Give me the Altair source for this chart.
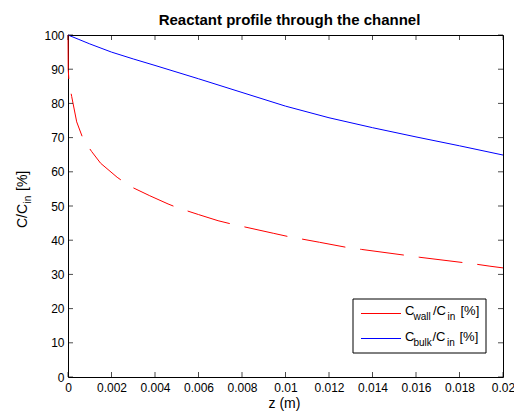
import altair as alt
import pandas as pd

# ---- data ----
z_wall = [0, 0.00001, 0.00005, 0.00017, 0.0004, 0.0007, 0.00109, 0.0015, 0.00226,
          0.00284, 0.00376, 0.0046, 0.00503, 0.006, 0.0069, 0.00754, 0.00946, 0.0101,
          0.01156, 0.01281, 0.0135, 0.0155, 0.01618, 0.01875, 0.0194, 0.02]
c_wall = [100, 90, 86, 82, 74.6, 69.5, 65.9, 62.5, 58.4,
          55.8, 53.0, 50.6, 49.5, 47.5, 45.7, 44.7, 42.0, 41.1,
          39.4, 37.9, 37.3, 35.6, 35.0, 33.0, 32.4, 31.9]

z_bulk = [0, 0.0005, 0.001, 0.002, 0.003, 0.004, 0.006, 0.008, 0.01,
          0.012, 0.014, 0.016, 0.018, 0.02]
c_bulk = [100, 98.7, 97.4, 95.0, 93.0, 91.1, 87.2, 83.2, 79.2,
          75.8, 72.9, 70.2, 67.6, 64.9]

x_ticks = [0, 0.002, 0.004, 0.006, 0.008, 0.01, 0.012, 0.014, 0.016, 0.018, 0.02]
y_ticks = [0, 10, 20, 30, 40, 50, 60, 70, 80, 90, 100]

W, H = 435, 342
FONT = "Liberation Sans"

wall_df = pd.DataFrame({"z": z_wall, "c": c_wall})
bulk_df = pd.DataFrame({"z": z_bulk, "c": c_bulk})
xt_df = pd.DataFrame({"z": x_ticks})
yt_df = pd.DataFrame({"c": y_ticks})
one = pd.DataFrame({"k": [0]})

xscale = alt.Scale(domain=[0, 0.02], nice=False, zero=False)
yscale = alt.Scale(domain=[0, 100], nice=False)

x_axis = alt.Axis(values=x_ticks, ticks=False, domain=False, grid=False,
                  labelFontSize=12, labelFont=FONT, labelColor="black",
                  labelPadding=5, labelExpr="format(datum.value, '~g')",
                  labelFlush=False, labelOverlap=False, title=None)
y_axis = alt.Axis(values=y_ticks, ticks=False, domain=False, grid=False,
                  labelFontSize=12, labelFont=FONT, labelColor="black",
                  labelPadding=4, labelFlush=False, labelOverlap=False,
                  title=None)


def X(field="z"):
    return alt.X(f"{field}:Q", scale=xscale, axis=x_axis)


def Y(field="c"):
    return alt.Y(f"{field}:Q", scale=yscale, axis=y_axis)


bulk = alt.Chart(bulk_df).mark_line(color="#0000ff", strokeWidth=1).encode(
    x=X(), y=Y(), order="z:Q")
wall = alt.Chart(wall_df).mark_line(color="#ff0000", strokeWidth=1,
                                    strokeDash=[44, 15]).encode(
    x=X(), y=Y(), order="z:Q")

tick_style = dict(color="black", thickness=1, size=5)
xt_bottom = alt.Chart(xt_df).mark_tick(orient="vertical", **tick_style).encode(
    x=X(), y=alt.value(H - 2.5))
xt_top = alt.Chart(xt_df).mark_tick(orient="vertical", **tick_style).encode(
    x=X(), y=alt.value(2.5))
yt_left = alt.Chart(yt_df).mark_tick(orient="horizontal", **tick_style).encode(
    y=Y(), x=alt.value(2.5))
yt_right = alt.Chart(yt_df).mark_tick(orient="horizontal", **tick_style).encode(
    y=Y(), x=alt.value(W - 2.5))


def txt(s, x, y, size, weight="normal", angle=0, align="left"):
    return alt.Chart(one).mark_text(
        text=s, font=FONT, fontSize=size, fontWeight=weight, angle=angle,
        align=align, baseline="alphabetic", color="black").encode(
        x=alt.value(x), y=alt.value(y))


title = txt("Reactant profile through the channel", 221.5, -10, 15,
            weight="bold", align="center")
xtitle = txt("z (m)", 216.5, 373, 14, align="center")
ytitle = [
    txt("C/C", -41, 193, 14, angle=270),
    txt("in", -37.5, 168.5, 10, angle=270),
    txt("[%]", -41, 156, 14, angle=270),
]

# legend box
legend_box = alt.Chart(one).mark_rect(fill="white", stroke="black",
                                      strokeWidth=1).encode(
    x=alt.value(285), x2=alt.value(418), y=alt.value(264), y2=alt.value(318))
leg_red = alt.Chart(one).mark_rule(color="#ff0000", strokeWidth=1).encode(
    x=alt.value(293), x2=alt.value(333), y=alt.value(278.5))
leg_blue = alt.Chart(one).mark_rule(color="#0000ff", strokeWidth=1).encode(
    x=alt.value(293), x2=alt.value(333), y=alt.value(303.5))
legend_text = [
    txt("C", 337, 280, 13),
    txt("wall", 345.5, 285, 10),
    txt("/C", 365, 280, 13),
    txt("in", 379.5, 285, 10),
    txt("[%]", 392.5, 280, 13),
    txt("C", 337, 306, 13),
    txt("bulk", 345.5, 310.5, 10),
    txt("/C", 364.5, 306, 13),
    txt("in", 379, 310.5, 10),
    txt("[%]", 391.5, 306, 13),
]

chart = alt.layer(
    bulk, wall, xt_bottom, xt_top, yt_left, yt_right,
    title, xtitle, *ytitle,
    legend_box, leg_red, leg_blue, *legend_text,
).properties(
    width=W, height=H,
    autosize=alt.AutoSizeParams(type="none"),
    padding={"left": 68, "top": 35, "right": 11, "bottom": 37},
    background="white",
).configure_view(stroke="black", strokeWidth=1)

chart.save("out.html", embed_options={"renderer": "svg", "actions": False})
